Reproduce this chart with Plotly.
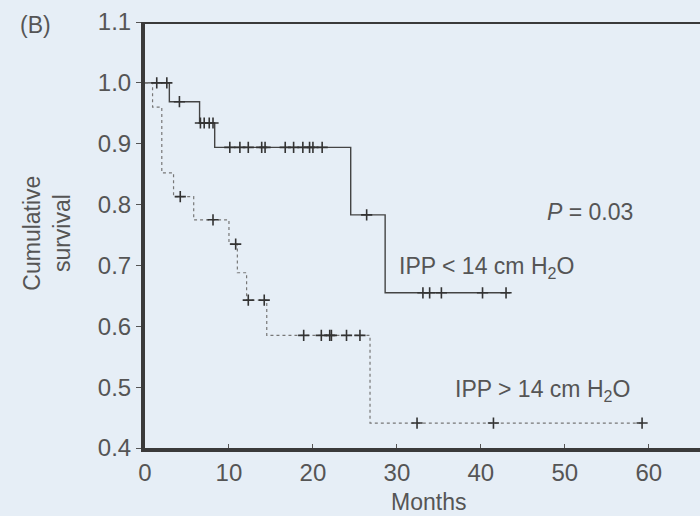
import plotly.graph_objects as go

# IPP < 14 cm H2O (solid)
low_times = [0, 2.9, 6.5, 8.3, 24.5, 28.6]
low_surv = [1.0, 0.969, 0.934, 0.894, 0.783, 0.655]
low_end = 43.5
low_censor = [1.4, 2.6, 4.1, 6.6, 7.05, 7.65, 8.1, 10.1, 11.3, 12.3, 13.9, 14.3,
              16.7, 17.7, 18.8, 19.6, 20.0, 21.1, 26.4, 33.1, 33.9, 35.3, 40.2, 43.0]

# IPP > 14 cm H2O (dotted)
high_times = [0, 0.9, 2.0, 3.4, 5.8, 10.0, 11.0, 12.1, 14.5, 26.8]
high_surv = [1.0, 0.960, 0.852, 0.813, 0.775, 0.735, 0.688, 0.643, 0.585, 0.441]
high_end = 59.2
high_censor = [4.2, 8.1, 10.8, 12.3, 14.2, 18.9, 21.0, 22.0, 22.2, 24.0, 25.6, 32.4, 41.5, 59.2]

x_ticks = [0, 10, 20, 30, 40, 50, 60]
y_ticks = [0.4, 0.5, 0.6, 0.7, 0.8, 0.9, 1.0, 1.1]


def step_at(times, surv, t):
    val = surv[0]
    for ti, si in zip(times, surv):
        if ti <= t:
            val = si
    return val


BG = "#e6eef6"
INK = "#3a3a3a"
TXT = "#555555"
FONT = "Liberation Sans, Arial, sans-serif"

fig = go.Figure()

fig.add_trace(go.Scatter(
    x=low_times + [low_end], y=low_surv + [low_surv[-1]],
    mode="lines", line=dict(shape="hv", color="#444444", width=1.4),
    hoverinfo="skip", showlegend=False))
fig.add_trace(go.Scatter(
    x=high_times + [high_end], y=high_surv + [high_surv[-1]],
    mode="lines", line=dict(shape="hv", color="#777777", width=1.2, dash="dot"),
    hoverinfo="skip", showlegend=False))

fig.add_trace(go.Scatter(
    x=low_censor, y=[step_at(low_times, low_surv, t) for t in low_censor],
    mode="markers",
    marker=dict(symbol="cross-thin", size=8, line=dict(width=1.6, color="#333333")),
    showlegend=False))
fig.add_trace(go.Scatter(
    x=high_censor, y=[step_at(high_times, high_surv, t) for t in high_censor],
    mode="markers",
    marker=dict(symbol="cross-thin", size=8, line=dict(width=1.6, color="#333333")),
    showlegend=False))

fig.add_shape(type="line", xref="paper", yref="y", x0=0, x1=1, y0=1.1, y1=1.1,
              line=dict(color=INK, width=4))

ann_font = dict(family=FONT, size=23, color=TXT)
common = dict(showarrow=False, xanchor="center", yanchor="middle", font=ann_font)
fig.add_annotation(x=53.0, y=0.788, xref="x", yref="y", text="<i>P</i> = 0.03", **common)
fig.add_annotation(x=30.0, y=0.697, xref="x", yref="y",
                   text="IPP &lt; 14 cm H<sub>2</sub>O",
                   **{**common, "xanchor": "left"})
fig.add_annotation(x=36.7, y=0.494, xref="x", yref="y",
                   text="IPP &gt; 14 cm H<sub>2</sub>O",
                   **{**common, "xanchor": "left"})
fig.add_annotation(x=-0.198, y=0.993, xref="paper", yref="paper", text="(B)", **common)
fig.add_annotation(x=-0.177, y=0.505, xref="paper", yref="paper",
                   text="Cumulative<br>survival", textangle=-90, **common)
fig.add_annotation(x=0.51, y=-0.126, xref="paper", yref="paper", text="Months", **common)

fig.update_xaxes(range=[0, 66.1], tickvals=x_ticks, ticktext=[str(v) for v in x_ticks],
                 showline=True, linecolor=INK, linewidth=4, ticks="inside",
                 ticklen=4, tickcolor=TXT, showgrid=False, zeroline=False,
                 tickfont=dict(family=FONT, size=24, color=TXT))
fig.update_yaxes(range=[0.4, 1.1], tickvals=y_ticks, ticktext=[f"{v:.1f}" for v in y_ticks],
                 showline=True, linecolor=INK, linewidth=4, ticks="outside",
                 ticklen=5, tickcolor=TXT, showgrid=False, zeroline=False,
                 tickfont=dict(family=FONT, size=24, color=TXT))

fig.update_layout(width=700, height=516, paper_bgcolor=BG, plot_bgcolor=BG,
                  margin=dict(l=145, r=0, t=22, b=68))

fig.write_html("out.html", config={"displayModeBar": False},
               post_script="document.body.style.margin='0';document.body.style.overflow='hidden';")
